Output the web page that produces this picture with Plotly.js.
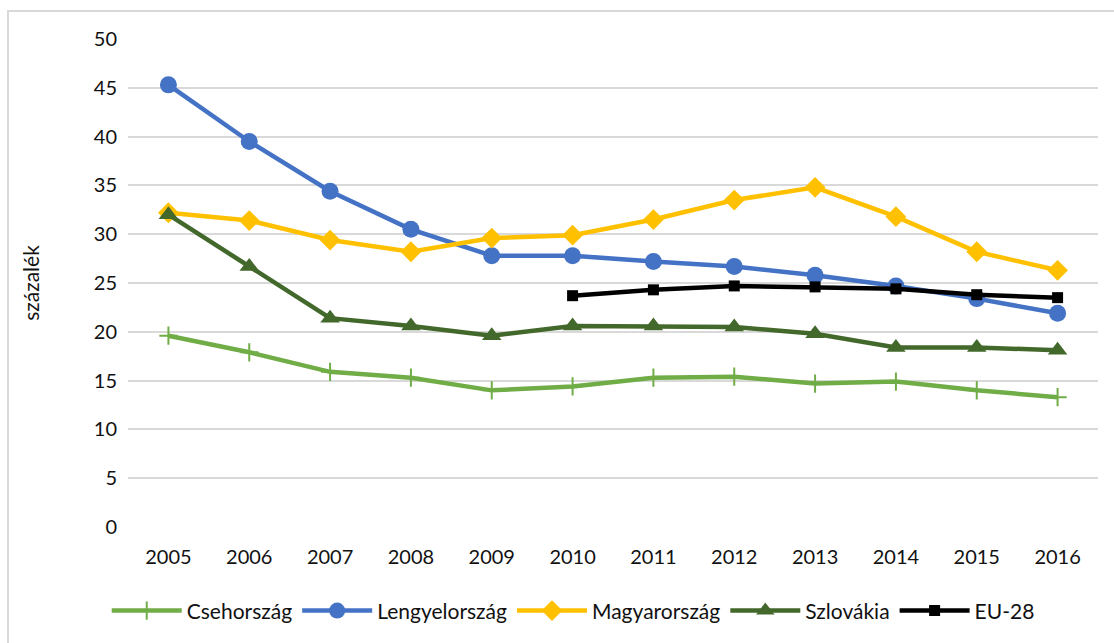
<!DOCTYPE html>
<html>
<head>
<meta charset="utf-8">
<script src="https://cdn.plot.ly/plotly-3.0.1.min.js"></script>
<style>
html,body{margin:0;padding:0;background:#fff;}
#wrap{position:relative;width:1114px;height:643px;overflow:hidden;}
#frame{position:absolute;left:7px;top:10px;width:1200px;height:700px;border-left:2px solid #d9d9d9;border-top:2px solid #d9d9d9;pointer-events:none;}
#chart{position:absolute;left:0;top:0;width:1114px;height:643px;}
</style>
</head>
<body>
<div id="wrap"><div id="chart"></div><div id="frame"></div></div>
<script>
const years = ['2005','2006','2007','2008','2009','2010','2011','2012','2013','2014','2015','2016'];
const csehorszag = [19.6, 17.9, 15.9, 15.3, 14.0, 14.4, 15.3, 15.4, 14.7, 14.9, 14.0, 13.3];
const lengyelorszag = [45.3, 39.5, 34.4, 30.5, 27.8, 27.8, 27.2, 26.7, 25.8, 24.7, 23.4, 21.9];
const magyarorszag = [32.2, 31.4, 29.4, 28.2, 29.6, 29.9, 31.5, 33.5, 34.8, 31.8, 28.2, 26.3];
const szlovakia = [32.0, 26.7, 21.4, 20.6, 19.6, 20.6, 20.6, 20.5, 19.8, 18.4, 18.4, 18.1];
const eu28 = [null, null, null, null, null, 23.7, 24.3, 24.7, 24.6, 24.4, 23.8, 23.5];
const yTicks = [0, 5, 10, 15, 20, 25, 30, 35, 40, 45, 50];

const traces = [
  {name:'Csehország', x:years, y:csehorszag, type:'scatter', mode:'lines+markers',
   line:{color:'#70ad47', width:4.5},
   marker:{symbol:'cross-thin', size:13, color:'#70ad47', line:{color:'#70ad47', width:2}}},
  {name:'Lengyelország', x:years, y:lengyelorszag, type:'scatter', mode:'lines+markers',
   line:{color:'#4472c4', width:4.5},
   marker:{symbol:'circle', size:17, color:'#4472c4'}},
  {name:'Magyarország', x:years, y:magyarorszag, type:'scatter', mode:'lines+markers',
   line:{color:'#ffc000', width:4.5},
   marker:{symbol:'diamond', size:16, color:'#ffc000'}},
  {name:'Szlovákia', x:years, y:szlovakia, type:'scatter', mode:'lines+markers',
   line:{color:'#43682b', width:4.5},
   marker:{symbol:'triangle-up', size:17, color:'#43682b'}},
  {name:'EU-28', x:years, y:eu28, type:'scatter', mode:'lines+markers',
   line:{color:'#000000', width:4.5}, connectgaps:false,
   marker:{symbol:'square', size:11, color:'#000000'}}
];

const layout = {
  width:1114, height:643,
  margin:{l:128, r:15.5, t:39, b:116},
  paper_bgcolor:'rgba(0,0,0,0)', plot_bgcolor:'#fff',
  font:{family:'Lato, "Open Sans", sans-serif', size:20, color:'#111'},
  showlegend:true,
  legend:{orientation:'h', x:0.459, xanchor:'center', y:-0.172, yanchor:'middle',
          font:{size:21, color:'#111'}, itemwidth:70, traceorder:'normal'},
  xaxis:{type:'category', categoryorder:'array', categoryarray:years,
         showgrid:false, zeroline:false, showline:false, ticks:'',
         ticklen:0, tickfont:{size:20}, ticklabelstandoff:16, range:[-0.5, 11.5], fixedrange:true},
  yaxis:{range:[0,50], tickvals:yTicks, ticktext:yTicks.map(String),
         showgrid:true, gridcolor:'#d9d9d9', gridwidth:2, zeroline:false,
         showline:false, ticks:'', tickfont:{size:20}, ticklabelstandoff:10,
         title:{text:'százalék', font:{size:21}, standoff:48}, fixedrange:true}
};

Plotly.newPlot('chart', traces, layout, {displayModeBar:false, staticPlot:true});
</script>
</body>
</html>
